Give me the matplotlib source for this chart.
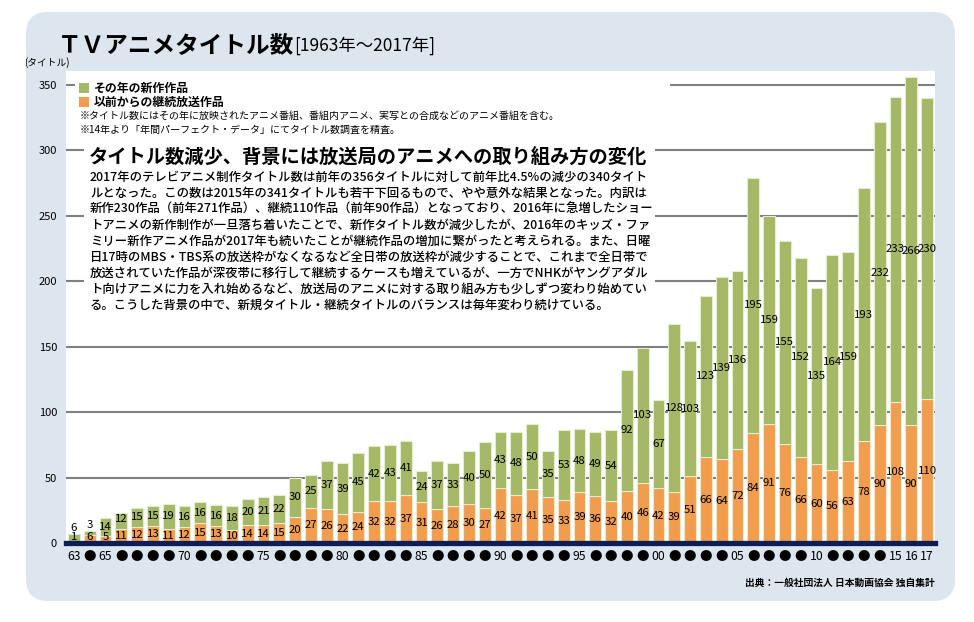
import matplotlib
matplotlib.use('Agg')
import matplotlib.pyplot as plt
from matplotlib.patches import FancyBboxPatch, Rectangle

plt.rcParams['font.family'] = ['Noto Sans CJK JP', 'DejaVu Sans']

# ---------------- data ----------------
years = list(range(1963, 2018))
new_titles = [6, 3, 14, 12, 15, 15, 19, 16, 16, 16,
              18, 20, 21, 22, 30, 25, 37, 39, 45, 42,
              43, 41, 24, 37, 33, 40, 50, 43, 48, 50,
              35, 53, 48, 49, 54, 92, 103, 67, 128, 103,
              123, 139, 136, 195, 159, 155, 152, 135, 164, 159,
              193, 232, 233, 266, 230]
continuing = [1, 6, 5, 11, 12, 13, 11, 12, 15, 13,
              10, 14, 14, 15, 20, 27, 26, 22, 24, 32,
              32, 37, 31, 26, 28, 30, 27, 42, 37, 41,
              35, 33, 39, 36, 32, 40, 46, 42, 39, 51,
              66, 64, 72, 84, 91, 76, 66, 60, 56, 63,
              78, 90, 108, 90, 110]
labelled_years = {1963: '63', 1965: '65', 1970: '70', 1975: '75', 1980: '80',
                  1985: '85', 1990: '90', 1995: '95', 2000: '00', 2005: '05',
                  2010: '10', 2015: '15', 2016: '16', 2017: '17'}
year_labels = [labelled_years.get(y, '●') for y in years]
y_ticks = [0, 50, 100, 150, 200, 250, 300, 350]

title = 'ＴＶアニメタイトル数'
subtitle = '[1963年～2017年]'
y_unit = '(タイトル)'
legend_new = 'その年の新作作品'
legend_cont = '以前からの継続放送作品'
notes = ['※タイトル数にはその年に放映されたアニメ番組、番組内アニメ、実写との合成などのアニメ番組を含む。',
         '※14年より「年間パーフェクト・データ」にてタイトル数調査を精査。']
headline = 'タイトル数減少、背景には放送局のアニメへの取り組み方の変化'
body_lines = [
    '2017年のテレビアニメ制作タイトル数は前年の356タイトルに対して前年比4.5%の減少の340タイト',
    'ルとなった。この数は2015年の341タイトルも若干下回るもので、やや意外な結果となった。内訳は',
    '新作230作品（前年271作品）、継続110作品（前年90作品）となっており、2016年に急増したショー',
    'トアニメの新作制作が一旦落ち着いたことで、新作タイトル数が減少したが、2016年のキッズ・ファ',
    'ミリー新作アニメ作品が2017年も続いたことが継続作品の増加に繋がったと考えられる。また、日曜',
    '日17時のMBS・TBS系の放送枠がなくなるなど全日帯の放送枠が減少することで、これまで全日帯で',
    '放送されていた作品が深夜帯に移行して継続するケースも増えているが、一方でNHKがヤングアダル',
    'ト向けアニメに力を入れ始めるなど、放送局のアニメに対する取り組み方も少しずつ変わり始めてい',
    'る。こうした背景の中で、新規タイトル・継続タイトルのバランスは毎年変わり続けている。',
]
source = '出典：一般社団法人 日本動画協会 独自集計'

# ---------------- style ----------------
GREEN = '#a4b865'
ORANGE = '#f29d4e'
EDGE = '#e4ecd2'
NAVY = '#0c1d5a'
GRID = '#808080'
PANEL = '#dde5ee'

W, H = 974, 622
fig = plt.figure(figsize=(W / 100, H / 100), dpi=100)

# background panel
bg = fig.add_axes([0, 0, 1, 1], zorder=-1)
bg.set_xlim(0, W)
bg.set_ylim(H, 0)
bg.axis('off')
bg.add_patch(FancyBboxPatch((26, 12), 929, 589,
                            boxstyle='round,pad=0,rounding_size=22',
                            fc=PANEL, ec='none'))

# main chart
left, right, top, base = 66, 935, 71, 543
ax = fig.add_axes([left / W, 1 - base / H, (right - left) / W, (base - top) / H], zorder=1)
ax.set_facecolor('white')
ax.set_xlim(1962.5, 2017.5)
ax.set_ylim(0, 360.7)

ax.bar(years, continuing, width=0.74, color=ORANGE, edgecolor=EDGE, linewidth=0.8, zorder=2)
ax.bar(years, new_titles, bottom=continuing, width=0.74, color=GREEN,
       edgecolor=EDGE, linewidth=0.8, zorder=2)

for yr, n, c in zip(years, new_titles, continuing):
    ax.text(yr, max(c / 2, 4.5), str(c), ha='center', va='center',
            fontsize=8.2, color='black', zorder=4)
    if n < 8:
        ypos = c + n + 4.5
    else:
        ypos = max(c + n / 2, c + 7)
    ax.text(yr, ypos, str(n), ha='center', va='center',
            fontsize=8.2, color='black', zorder=4)

ax.set_yticks(y_ticks)
ax.set_yticklabels([str(v) for v in y_ticks])
ax.yaxis.grid(True, color=GRID, linewidth=1.5)
ax.set_axisbelow(True)
ax.set_xticks(years)
ax.set_xticklabels(year_labels)
ax.tick_params(axis='y', length=0, pad=6.5, labelsize=8)
ax.tick_params(axis='x', length=0, pad=5, labelsize=8.8)
for lbl in ax.get_xticklabels():
    if lbl.get_text() == '●':
        lbl.set_fontsize(9)
for s in ['left', 'right', 'top']:
    ax.spines[s].set_visible(False)
ax.spines['bottom'].set_color(NAVY)
ax.spines['bottom'].set_linewidth(3.8)
ax.spines['bottom'].set_zorder(5)

# foreground overlay (text, legend, white covers)
fg = fig.add_axes([0, 0, 1, 1], zorder=10)
fg.set_xlim(0, W)
fg.set_ylim(H, 0)
fg.axis('off')
fg.patch.set_alpha(0)

fg.add_patch(Rectangle((75, 76), 595, 62, fc='white', ec='none'))
fg.add_patch(Rectangle((84, 138), 571, 180, fc='white', ec='none'))

t = fg.text(58, 46, title, fontsize=17, fontweight='bold', va='center', ha='left')
fg.annotate(subtitle, xy=(1, 0), xycoords=t, xytext=(0, 2), textcoords='offset points',
            fontsize=12.5, va='bottom', ha='left')
fg.text(24, 63, y_unit, fontsize=7, va='center', ha='left')

fg.add_patch(Rectangle((79, 83), 10, 10, fc=GREEN, ec='none'))
fg.add_patch(Rectangle((79, 97), 10, 10, fc=ORANGE, ec='none'))
fg.text(94, 88, legend_new, fontsize=8.6, fontweight='bold', va='center')
fg.text(94, 102, legend_cont, fontsize=8.6, fontweight='bold', va='center')
fg.text(80, 116, notes[0], fontsize=7.2, va='center')
fg.text(80, 130, notes[1], fontsize=7.2, va='center')

fg.text(89, 158, headline, fontsize=13.9, fontweight='bold', va='center')
for i, line in enumerate(body_lines):
    fg.text(90, 177 + 16 * i, line, fontsize=8.9, fontweight='medium', va='center')

fg.text(935, 583, source, fontsize=7, fontweight='bold', va='center', ha='right')

fig.savefig('out.png', dpi=100)
